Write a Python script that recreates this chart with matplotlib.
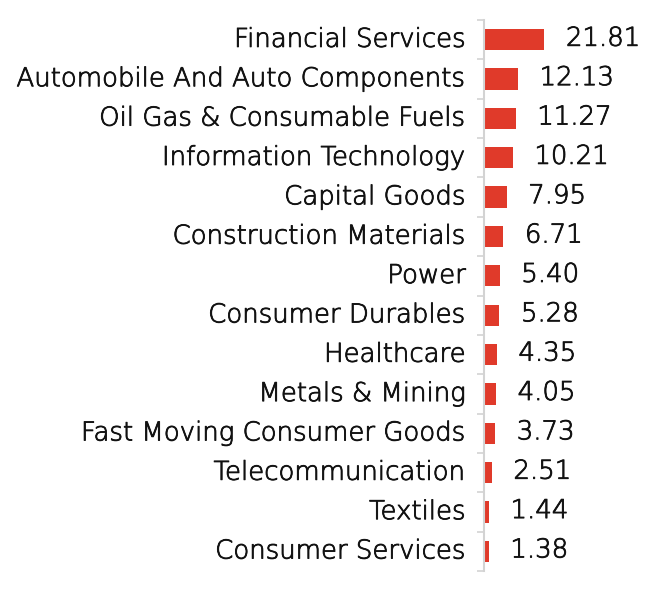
import matplotlib
matplotlib.use("Agg")
import matplotlib.pyplot as plt
import matplotlib.transforms as mtransforms
import matplotlib.patheffects as pe
import numpy as np

categories = ["Financial Services", "Automobile And Auto Components", "Oil Gas & Consumable Fuels",
              "Information Technology", "Capital Goods", "Construction Materials", "Power",
              "Consumer Durables", "Healthcare", "Metals & Mining", "Fast Moving Consumer Goods",
              "Telecommunication", "Textiles", "Consumer Services"]
values = [21.81, 12.13, 11.27, 10.21, 7.95, 6.71, 5.40, 5.28, 4.35, 4.05, 3.73, 2.51, 1.44, 1.38]

W, H = 661, 592
dpi = 100
fig = plt.figure(figsize=(W / dpi, H / dpi), dpi=dpi)
left = 484 / W
ax = fig.add_axes([left, (H - 571) / H, 1 - left, 551 / H])

n = len(categories)
y = np.arange(n)
bar_color = "#E03A2A"
ax.barh(y, values, height=0.54, color=bar_color, left=0.4)
ax.set_ylim(n - 0.5, -0.5)
ax.set_xlim(0, 177 / 2.72)

font = "DejaVu Sans"
fs = 18.7
txt_color = "#111111"
effects = [pe.withStroke(linewidth=0.6, foreground=txt_color)]
for yi, v in zip(y, values):
    ax.annotate(f"{v:.2f}", xy=(v + 0.4, yi), xytext=(15.5, 1), textcoords="offset points",
                va="center", ha="left", fontsize=fs, color=txt_color, family=font,
                fontweight="light", path_effects=effects)

ax.set_yticks(y)
ax.set_yticklabels(categories, fontsize=fs, color=txt_color, family=font, fontweight="light")
ax.tick_params(axis="y", which="major", length=0, pad=13)
ax.set_yticks(np.arange(-0.5, n, 1.0), minor=True)
ax.tick_params(axis="y", which="minor", length=5, color="#d3d3d3", width=1.2)
ax.set_xticks([])
shift = mtransforms.ScaledTranslation(0, 2 / 72, fig.dpi_scale_trans)
for lab in ax.get_yticklabels():
    lab.set_transform(lab.get_transform() + shift)
    lab.set_path_effects(effects)

for s in ["top", "right", "bottom"]:
    ax.spines[s].set_visible(False)
ax.spines["left"].set_color("#d3d3d3")
ax.spines["left"].set_linewidth(1.5)

fig.savefig("out.png", dpi=dpi)
